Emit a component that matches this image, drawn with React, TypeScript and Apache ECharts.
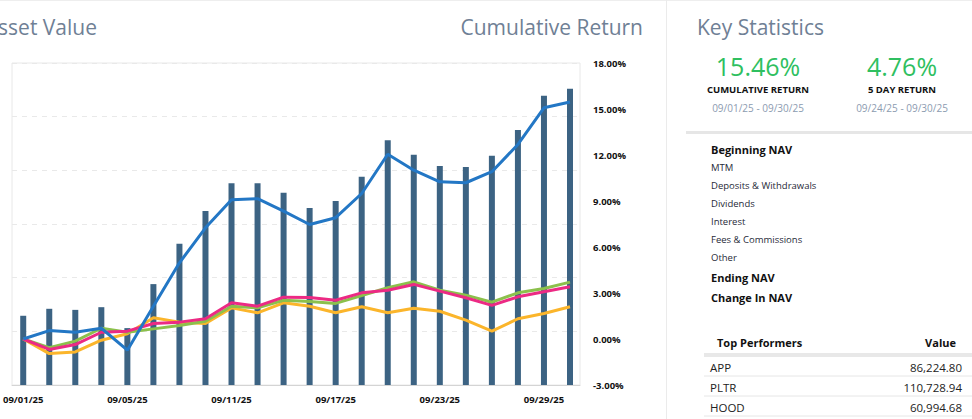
import React, { useEffect, useRef } from "react";
import * as echarts from "echarts";

const dates = [
  "09/01/25", "09/02/25", "09/03/25", "09/04/25", "09/05/25", "09/08/25",
  "09/09/25", "09/10/25", "09/11/25", "09/12/25", "09/15/25", "09/16/25",
  "09/17/25", "09/18/25", "09/19/25", "09/22/25", "09/23/25", "09/24/25",
  "09/25/25", "09/26/25", "09/29/25", "09/30/25",
];
// Net asset value bars (hidden left axis, arbitrary units)
const navValues = [129, 142, 140, 145, 106, 188, 263, 324, 376, 376, 358, 330, 343, 388, 456, 429, 408, 406, 427, 475, 539, 552];
// Cumulative return (%)
const portfolioReturn = [0, 0.55, 0.44, 0.7, -0.73, 2.14, 4.97, 7.25, 9.08, 9.15, 8.34, 7.47, 7.91, 9.49, 12.05, 11.01, 10.25, 10.19, 10.91, 12.69, 15.08, 15.46];
const benchmarkGreen = [0, -0.57, -0.14, 0.7, 0.44, 0.66, 0.88, 1.16, 2.14, 2.03, 2.53, 2.44, 2.32, 2.84, 3.34, 3.73, 3.18, 2.86, 2.4, 3.01, 3.29, 3.71];
const benchmarkPink = [0, -0.68, -0.36, 0.44, 0.51, 1.01, 1.1, 1.32, 2.36, 2.14, 2.73, 2.71, 2.53, 3.01, 3.18, 3.56, 3.12, 2.69, 2.19, 2.75, 3.08, 3.41];
const benchmarkYellow = [0, -0.95, -0.84, -0.08, 0.34, 1.38, 1.1, 1.01, 2.03, 1.71, 2.36, 2.14, 1.71, 2.1, 1.71, 2.01, 1.81, 1.23, 0.51, 1.32, 1.66, 2.1];

const returnMin = -3;
const returnMax = 18;
const returnStep = 3;

const statValues = ["15.46%", "4.76%"];
const statLabels = ["CUMULATIVE RETURN", "5 DAY RETURN"];
const statRanges = ["09/01/25 - 09/30/25", "09/24/25 - 09/30/25"];

const navRows = [
  { label: "Beginning NAV", bold: true },
  { label: "MTM", bold: false },
  { label: "Deposits & Withdrawals", bold: false },
  { label: "Dividends", bold: false },
  { label: "Interest", bold: false },
  { label: "Fees & Commissions", bold: false },
  { label: "Other", bold: false },
  { label: "Ending NAV", bold: true },
  { label: "Change In NAV", bold: true },
];
const navRowY = [149, 167, 185, 203, 221, 239, 257, 277, 297];

const performers = ["APP", "PLTR", "HOOD"];
const performerValues = ["86,224.80", "110,728.94", "60,994.68"];

const FONT = "'Open Sans', 'Noto Sans', sans-serif";

export default function App() {
  const ref = useRef<HTMLDivElement>(null);

  useEffect(() => {
    if (!ref.current) return;
    const chart = echarts.init(ref.current, undefined, { renderer: "svg" });

    const graphics: any[] = [];
    // page top border & divider
    graphics.push({ type: "line", shape: { x1: 0, y1: 0.5, x2: 972, y2: 0.5 }, style: { stroke: "#eeeeee", lineWidth: 1 } });
    graphics.push({ type: "line", shape: { x1: 666.5, y1: 0, x2: 666.5, y2: 419 }, style: { stroke: "#ebebeb", lineWidth: 1 } });
    // titles
    graphics.push({ type: "text", x: 97, y: 27, style: { text: "Net Asset Value", fill: "#6f8095", fontFamily: FONT, fontSize: 21, align: "right", verticalAlign: "middle" } });
    graphics.push({ type: "text", x: 643, y: 27, style: { text: "Cumulative Return", fill: "#6f8095", fontFamily: FONT, fontSize: 21, align: "right", verticalAlign: "middle" } });
    graphics.push({ type: "text", x: 697, y: 27, style: { text: "Key Statistics", fill: "#6f8095", fontFamily: FONT, fontSize: 21, align: "left", verticalAlign: "middle" } });
    // stats
    const statX = [758, 902];
    statValues.forEach((v, i) => {
      graphics.push({ type: "text", x: statX[i], y: 66, style: { text: v, fill: "#2fbf60", fontFamily: FONT, fontSize: 25, align: "center", verticalAlign: "middle" } });
      graphics.push({ type: "text", x: statX[i], y: 89.5, style: { text: statLabels[i], fill: "#111111", fontFamily: FONT, fontSize: 9.5, fontWeight: "bold", align: "center", verticalAlign: "middle" } });
      graphics.push({ type: "text", x: statX[i], y: 108, style: { text: statRanges[i], fill: "#8c9bb0", fontFamily: FONT, fontSize: 10, align: "center", verticalAlign: "middle" } });
    });
    graphics.push({ type: "rect", shape: { x: 686, y: 131, width: 286, height: 3 }, style: { fill: "#e6e6e6" } });
    // NAV list
    navRows.forEach((r, i) => {
      graphics.push({
        type: "text", x: 711, y: navRowY[i],
        style: { text: r.label, fill: r.bold ? "#111111" : "#1f2a38", fontFamily: FONT, fontSize: r.bold ? 11 : 9.5, fontWeight: r.bold ? "bold" : "normal", align: "left", verticalAlign: "middle" },
      });
    });
    // top performers
    graphics.push({ type: "text", x: 717, y: 342, style: { text: "Top Performers", fill: "#111111", fontFamily: FONT, fontSize: 11, fontWeight: "bold", align: "left", verticalAlign: "middle" } });
    graphics.push({ type: "text", x: 956, y: 342, style: { text: "Value", fill: "#111111", fontFamily: FONT, fontSize: 11, fontWeight: "bold", align: "right", verticalAlign: "middle" } });
    graphics.push({ type: "rect", shape: { x: 704, y: 353, width: 268, height: 4 }, style: { fill: "#e8e8e8" } });
    performers.forEach((p, i) => {
      const cy = 367.5 + i * 20;
      graphics.push({ type: "text", x: 710, y: cy, style: { text: p, fill: "#222222", fontFamily: FONT, fontSize: 11.5, align: "left", verticalAlign: "middle" } });
      graphics.push({ type: "text", x: 962, y: cy, style: { text: performerValues[i], fill: "#222222", fontFamily: FONT, fontSize: 11.5, align: "right", verticalAlign: "middle" } });
      graphics.push({ type: "line", shape: { x1: 704, y1: cy + 8.5, x2: 972, y2: cy + 8.5 }, style: { stroke: "#e6e6e6", lineWidth: 1 } });
    });

    const lineSeries = (name: string, data: number[], color: string, z: number) => ({
      name,
      type: "line",
      xAxisIndex: 1,
      yAxisIndex: 2,
      data,
      symbol: "none",
      showSymbol: false,
      z,
      lineStyle: { color, width: 3 },
      itemStyle: { color },
    });

    chart.setOption({
      animation: false,
      backgroundColor: "#ffffff",
      grid: [
        { left: 12, top: 63, width: 568, height: 322, show: true, borderColor: "#e8e8e8", borderWidth: 1, containLabel: false },
        { left: 22, top: 63, width: 548, height: 322, containLabel: false },
      ],
      xAxis: [
        {
          gridIndex: 0, type: "value", min: 0, max: 1,
          axisLine: { show: true, lineStyle: { color: "#d4d4d4", width: 1 } },
          axisTick: { show: false }, axisLabel: { show: false }, splitLine: { show: false },
        },
        {
          gridIndex: 1, type: "category", data: dates, boundaryGap: false,
          axisLine: { show: false }, axisTick: { show: false }, splitLine: { show: false },
          axisLabel: { interval: 3, color: "#111111", fontWeight: "bold", fontSize: 9.5, fontFamily: FONT, margin: 9 },
        },
      ],
      yAxis: [
        {
          gridIndex: 0, type: "value", min: 0, max: 6, interval: 1,
          axisLine: { show: false }, axisTick: { show: false }, axisLabel: { show: false },
          splitLine: { show: true, lineStyle: { color: "#e9e9e9", type: [5, 5], width: 1 } },
        },
        { gridIndex: 1, type: "value", min: 0, max: 600, show: false, splitLine: { show: false } },
        {
          gridIndex: 1, type: "value", position: "right", min: returnMin, max: returnMax, interval: returnStep,
          axisLine: { show: false }, axisTick: { show: false }, splitLine: { show: false },
          axisLabel: { margin: 23, color: "#111111", fontWeight: "bold", fontSize: 9.5, fontFamily: FONT, formatter: (v: number) => v.toFixed(2) + "%" },
        },
      ],
      series: [
        {
          name: "Net Asset Value", type: "bar", xAxisIndex: 1, yAxisIndex: 1, data: navValues,
          barWidth: 6, clip: false, z: 1, itemStyle: { color: "#3c6383" },
        },
        lineSeries("Benchmark (yellow)", benchmarkYellow, "#fbb52b", 2),
        lineSeries("Benchmark (green)", benchmarkGreen, "#8cc04c", 3),
        lineSeries("Benchmark (pink)", benchmarkPink, "#ec2a84", 4),
        lineSeries("Portfolio", portfolioReturn, "#2377c5", 5),
      ],
      graphic: graphics,
    });

    return () => chart.dispose();
  }, []);

  return <div ref={ref} style={{ position: "fixed", left: 0, top: 0, width: 972, height: 419 }} />;
}
